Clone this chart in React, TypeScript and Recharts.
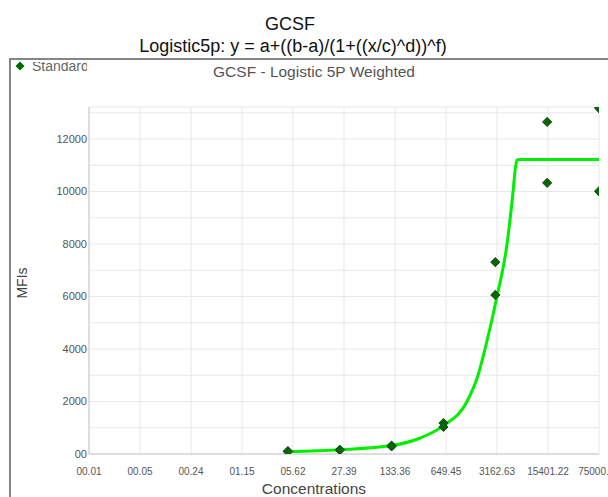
import React from "react"
import { CartesianGrid, ComposedChart, Line, Scatter, XAxis, YAxis } from "recharts"

// x positions of the log axis and their printed labels
const xTicks = [0.01, 0.0487, 0.237, 1.155, 5.62, 27.39, 133.36, 649.45, 3162.63, 15401.22, 75000]
const xTickLabels = ["00.01", "00.05", "00.24", "01.15", "05.62", "27.39", "133.36", "649.45", "3162.63", "15401.22", "75000.00"]

const yTicks = [0, 1000, 2000, 3000, 4000, 5000, 6000, 7000, 8000, 9000, 10000, 11000, 12000, 13000]

// standards (replicates at each 5-fold dilution)
const standardConc = [4.8, 4.8, 24, 24, 120, 120, 600, 600, 3000, 3000, 15000, 15000, 75000, 75000]
const standardMfi = [90, 110, 150, 160, 290, 320, 1180, 1030, 7310, 6060, 12650, 10330, 13180, 10010]

// fitted logistic 5P curve
const fitConc = [4.8, 24, 120, 287, 600, 1247, 1755, 2180, 3162, 4320, 5210, 5600, 5900, 6500, 75000]
const fitMfi = [90, 160, 320, 600, 1080, 2000, 3000, 4000, 6000, 8000, 10000, 10900, 11200, 11220, 11220]

const standards = standardConc.map((x, i) => ({ x, y: standardMfi[i] }))
const fit = fitConc.map((x, i) => ({ x, y: fitMfi[i] }))

const FONT = '"Liberation Sans", Arial, sans-serif'
const DOT_FILL = "#006a00"
const DOT_STROKE = "#1d441d"

const Diamond = (props: any) => {
  const { cx, cy } = props
  if (cx == null || cy == null) return null
  const r = 4.6
  return (
    <polygon
      points={`${cx},${cy - r} ${cx + r},${cy} ${cx},${cy + r} ${cx - r},${cy}`}
      fill={DOT_FILL}
      stroke={DOT_STROKE}
      strokeWidth={1}
    />
  )
}

const abs = (style: React.CSSProperties): React.CSSProperties => ({ position: "absolute", whiteSpace: "nowrap", ...style })

export default function App() {
  return (
    <div style={abs({ left: 0, top: 0, width: 608, height: 497, overflow: "hidden", background: "#fff", fontFamily: FONT })}>
      <div style={abs({ left: 190, top: 15, width: 200, textAlign: "center", fontSize: 18, lineHeight: "18px", color: "#111" })}>GCSF</div>
      <div style={abs({ left: 93, top: 37, width: 400, textAlign: "center", fontSize: 18, lineHeight: "18px", color: "#111" })}>
        Logistic5p: y = a+((b-a)/(1+((x/c)^d))^f)
      </div>

      {/* chart frame, runs past the right and bottom edges */}
      <div style={abs({ left: 9, top: 58, width: 640, height: 480, border: "2px solid #858585" })} />

      <ComposedChart
        width={608}
        height={497}
        margin={{ top: 107, right: 9, bottom: 0, left: 0 }}
        style={{ position: "absolute", left: 0, top: 0 }}
      >
        <CartesianGrid stroke="#e8e8e8" strokeWidth={1} />
        <XAxis
          dataKey="x"
          type="number"
          scale="log"
          domain={[0.01, 75000]}
          ticks={xTicks}
          interval={0}
          allowDataOverflow
          height={43}
          tickLine={false}
          tickSize={6}
          tickMargin={8}
          axisLine={{ stroke: "#c8c8c8" }}
          tick={{ fontSize: 10, fill: "#555", fontFamily: FONT }}
          tickFormatter={(v: number) => xTickLabels[xTicks.indexOf(v)] ?? ""}
        />
        <YAxis
          dataKey="y"
          type="number"
          domain={[0, 13220]}
          ticks={yTicks}
          interval={0}
          allowDataOverflow
          width={89}
          tickLine={false}
          tickSize={0}
          tickMargin={2}
          axisLine={{ stroke: "#c8c8c8" }}
          tick={{ fontSize: 11, fill: "#555", fontFamily: FONT }}
          tickFormatter={(v: number) => (v === 0 ? "00" : v % 2000 === 0 ? String(v) : "")}
        />
        <Line
          data={fit}
          dataKey="y"
          type="monotone"
          stroke="#00ee00"
          strokeWidth={3}
          dot={false}
          activeDot={false}
          isAnimationActive={false}
        />
        <Scatter data={standards} dataKey="y" shape={Diamond} isAnimationActive={false} />
      </ComposedChart>

      {/* legend, clipped by the frame */}
      <svg style={abs({ left: 15, top: 61, width: 12, height: 12 })} width={12} height={12}>
        <polygon points="5,0.5 9.5,5 5,9.5 0.5,5" fill={DOT_FILL} />
      </svg>
      <div style={abs({ left: 32, top: 62, width: 55, height: 12, overflow: "hidden" })}>
        <div style={abs({ left: 0, top: -4, fontSize: 14, lineHeight: "16px", color: "#666" })}>Standard</div>
      </div>

      <div style={abs({ left: 164, top: 63, width: 300, textAlign: "center", fontSize: 15.5, lineHeight: "18px", color: "#555" })}>
        GCSF - Logistic 5P Weighted
      </div>
      <div style={abs({ left: 164, top: 480, width: 300, textAlign: "center", fontSize: 15.5, lineHeight: "18px", color: "#444" })}>
        Concentrations
      </div>
      <div
        style={abs({
          left: 22,
          top: 283,
          fontSize: 14,
          lineHeight: "16px",
          color: "#444",
          transform: "translate(-50%, -50%) rotate(-90deg)",
        })}
      >
        MFIs
      </div>
    </div>
  )
}
